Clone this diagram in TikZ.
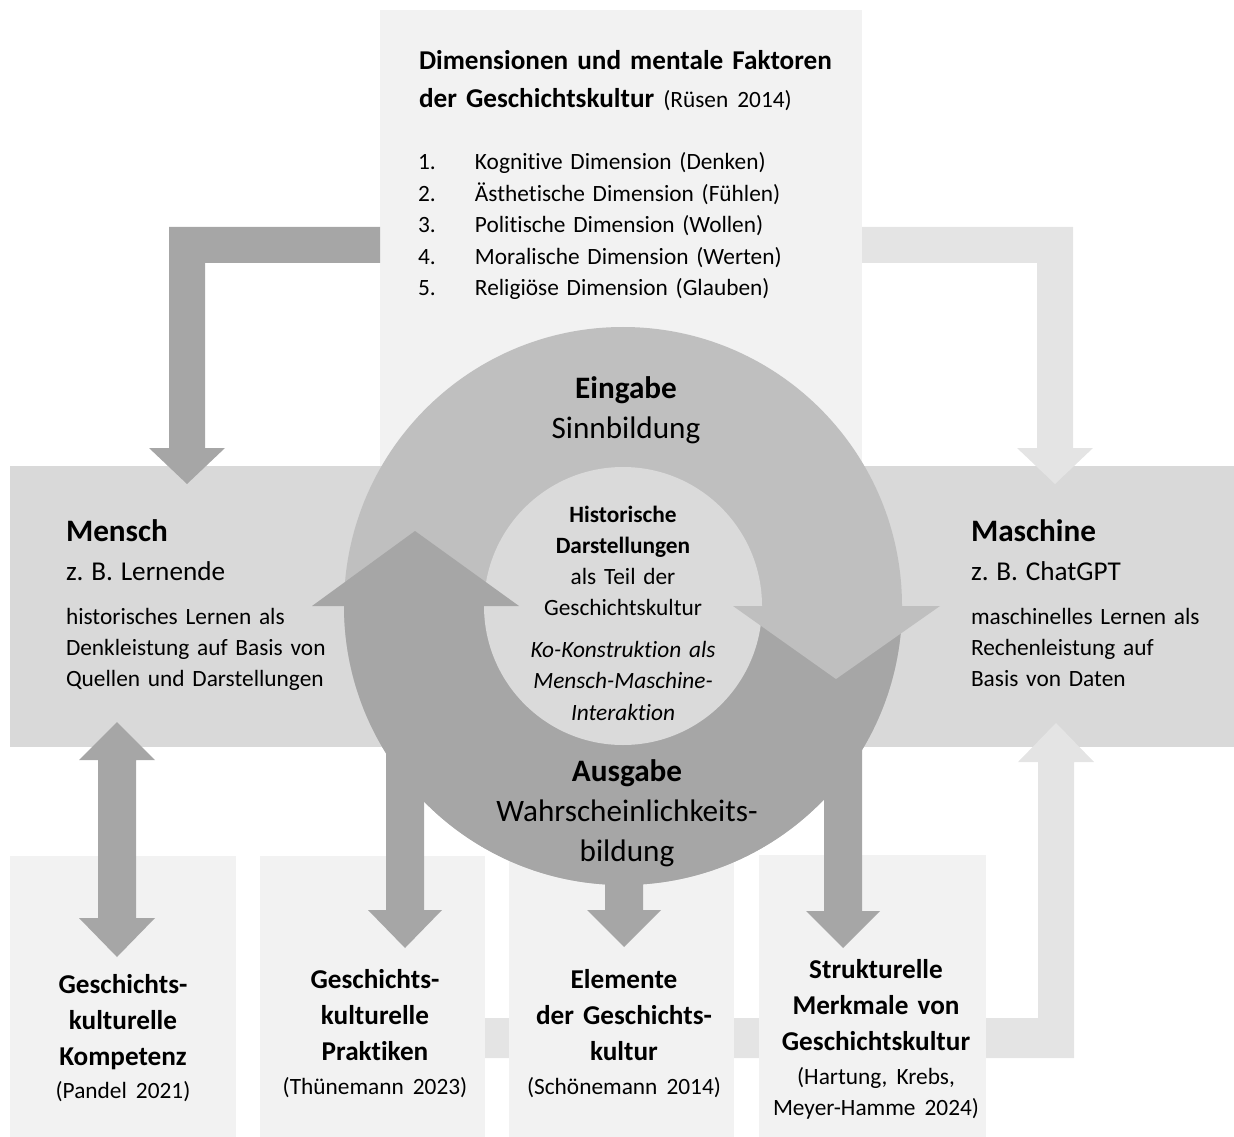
\documentclass[tikz,border=0pt]{standalone}
\usepackage{fontspec}
\setmainfont{Carlito}[Ligatures=NoCommon]
\definecolor{boxlight}{HTML}{F2F2F2}
\definecolor{bandgray}{HTML}{D9D9D9}
\definecolor{ringlight}{HTML}{BFBFBF}
\definecolor{ringdark}{HTML}{A6A6A6}
\definecolor{arrowlight}{HTML}{E4E4E4}
\definecolor{innergray}{HTML}{DADADA}
\newcommand\fsz[2]{\fontsize{#1}{#2}\selectfont}
\begin{document}
\begin{tikzpicture}[x=0.75pt,y=-0.75pt,
  lbl/.style={inner sep=0pt, outer sep=0pt, text=black, anchor=base, execute at begin node=\frenchspacing},
  lblL/.style={lbl, anchor=base west},
  btext/.style={lbl, text width=168pt, align=center, font=\fsz{20.4}{27}\bfseries}
]
\useasboundingbox (0,0) rectangle (1234,1137);
% top box and band
\fill[boxlight] (380,10) rectangle (862,466);
\fill[bandgray] (10,466) rectangle (1234,747);
% top L arrows
\fill[ringdark] (380,227) -- (169,227) -- (169,448) -- (149,448) -- (187,484) -- (225,448) -- (205,448) -- (205,263) -- (380,263) -- cycle;
\fill[arrowlight] (862,227) -- (1073,227) -- (1073,448) -- (1093,448) -- (1055,484) -- (1017,448) -- (1037,448) -- (1037,263) -- (862,263) -- cycle;
% bottom L arrow to Maschine
\fill[arrowlight] (372,1058) -- (1074,1058) -- (1074,762) -- (1094,762) -- (1056,723) -- (1018,762) -- (1038,762) -- (1038,1018) -- (372,1018) -- cycle;
% bottom boxes
\fill[boxlight] (10,856) rectangle (236,1137);
\fill[boxlight] (260,856) rectangle (485,1137);
\fill[boxlight] (509,856) rectangle (734,1137);
\fill[boxlight] (759,855) rectangle (986,1137);
% double arrow Mensch <-> box1
\fill[ringdark] (117,722) -- (155,760) -- (136,760) -- (136,918) -- (155,918) -- (117,957) -- (79,918) -- (98,918) -- (98,760) -- (79,760) -- cycle;
% ring
\fill[ringlight] (623,606) circle[radius=279];
\begin{scope}
  \clip (300,606) rectangle (950,900);
  \fill[ringdark] (623,606) circle[radius=279];
\end{scope}
% down arrows from ring
\fill[ringdark] (386,740) -- (424,740) -- (424,910) -- (442,910) -- (405,948) -- (368,910) -- (386,910) -- cycle;
\fill[ringdark] (605,850) -- (643,850) -- (643,910) -- (661,910) -- (624,947) -- (587,910) -- (605,910) -- cycle;
\fill[ringdark] (824,740) -- (862,740) -- (862,911) -- (880,911) -- (843,948) -- (806,911) -- (824,911) -- cycle;
% inner circle
\fill[innergray] (623,606) circle[radius=139];
% ring arrow heads
\fill[ringdark] (312,606) -- (415,531) -- (519,606) -- cycle;
\fill[ringlight] (733,606) -- (836,679) -- (940,606) -- cycle;
% texts
\node[lblL, text width=330pt, align=left, font=\fsz{20.4}{28.5}\bfseries] (title) at (419,70)
  {Dimensionen und mentale Faktoren\\der Geschichtskultur {\mdseries\fsz{17.5}{28.5}(Rüsen 2014)}};
\node[lblL, text width=330pt, align=left, font=\fsz{17.5}{23.6}] (list) at (418,170)
  {\makebox[42.75pt][l]{1.}Kognitive Dimension (Denken)\\
   \makebox[42.75pt][l]{2.}Ästhetische Dimension (Fühlen)\\
   \makebox[42.75pt][l]{3.}Politische Dimension (Wollen)\\
   \makebox[42.75pt][l]{4.}Moralische Dimension (Werten)\\
   \makebox[42.75pt][l]{5.}Religiöse Dimension (Glauben)};
\node[lblL, text width=240pt, align=left, font=\fsz{17.5}{23.25}] (mensch) at (66,541)
  {{\fsz{23.4}{23.25}\bfseries Mensch}\\[6pt]{\fsz{20.4}{23.25}z. B. Lernende}\\[9.75pt]historisches Lernen als\\Denkleistung auf Basis von\\Quellen und Darstellungen};
\node[lblL, text width=200pt, align=left, font=\fsz{17.5}{23.25}] (maschine) at (971,541)
  {{\fsz{23.4}{23.25}\bfseries Maschine}\\[6pt]{\fsz{20.4}{23.25}z. B. ChatGPT}\\[9.75pt]maschinelles Lernen als\\Rechenleistung auf\\Basis von Daten};
\node[lbl, text width=250pt, align=center, font=\fsz{23.4}{30.5}] (eingabe) at (626,398)
  {\textbf{Eingabe}\\Sinnbildung};
\node[lbl, text width=200pt, align=center, font=\fsz{17.5}{23.4}] (mitte) at (623,522)
  {\textbf{Historische}\\\textbf{Darstellungen}\\als Teil der\\Geschichtskultur\\[8.1pt]\textit{Ko-Konstruktion als}\\\textit{Mensch-Maschine-}\\\textit{Interaktion}};
\node[lbl, text width=270pt, align=center, font=\fsz{23.4}{30}] (ausgabe) at (627,781)
  {\textbf{Ausgabe}\\Wahrscheinlichkeits-\\bildung};
\node[btext] (kompetenz) at (123,993)
  {Geschichts-\\kulturelle\\Kompetenz\\[-2.25pt]{\mdseries\fsz{17.5}{27}(Pandel 2021)}};
\node[btext] (praktiken) at (375,988)
  {Geschichts-\\kulturelle\\Praktiken\\[-1.5pt]{\mdseries\fsz{17.5}{27}(Thünemann 2023)}};
\node[btext] (elemente) at (624,988)
  {Elemente\\der Geschichts-\\kultur\\[-1.5pt]{\mdseries\fsz{17.5}{27}(Schönemann 2014)}};
\node[btext] (merkmale) at (876,978)
  {Strukturelle\\Merkmale von\\Geschichtskultur\\[-1.5pt]{\mdseries\fsz{17.5}{27}(Hartung, Krebs,}\\[-3.75pt]{\mdseries\fsz{17.5}{27}Meyer-Hamme 2024)}};
\end{tikzpicture}
\end{document}
